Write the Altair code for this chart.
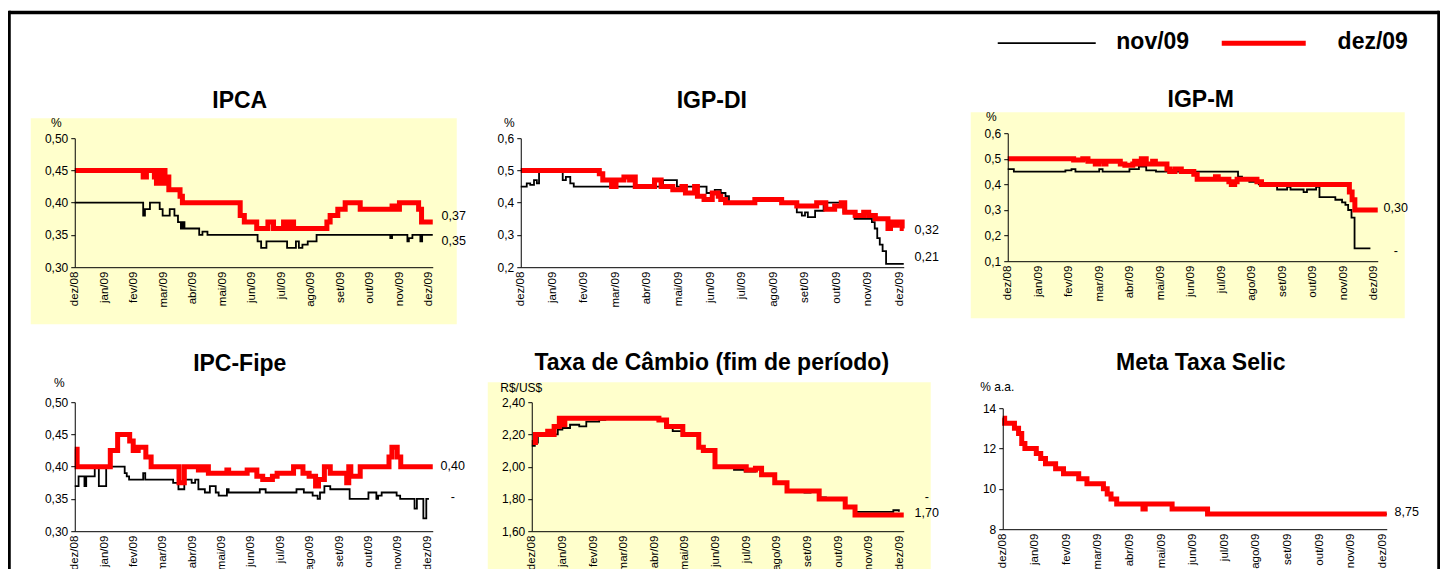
import altair as alt
import pandas as pd

FONT = "Liberation Sans"
MESES = ["dez/08", "jan/09", "fev/09", "mar/09", "abr/09", "mai/09", "jun/09",
         "jul/09", "ago/09", "set/09", "out/09", "nov/09", "dez/09"]
SERIES = ["nov/09", "dez/09"]

# ---------------- IPCA ----------------
ipca_nov_m = [0, 2.32, 2.38, 2.55, 2.88, 2.98, 3.22, 3.38, 3.50, 3.60, 3.66, 3.72, 4.22, 4.33, 4.50,
              6.20, 6.32, 6.50, 7.20, 7.50, 7.60, 7.72, 7.90, 8.20, 10.70, 10.76, 11.28, 11.33,
              11.45, 11.72, 11.78, 12.14]
ipca_nov_v = [0.40, 0.38, 0.39, 0.40, 0.39, 0.38, 0.39, 0.38, 0.37, 0.36, 0.37, 0.36, 0.35, 0.355, 0.35,
              0.34, 0.33, 0.34, 0.33, 0.34, 0.33, 0.335, 0.34, 0.35, 0.345, 0.35, 0.34, 0.345,
              0.35, 0.34, 0.35, 0.35]
ipca_dez_m = [0, 2.32, 2.43, 2.70, 2.77, 2.85, 2.94, 3.00, 3.06, 3.11, 3.19, 3.57, 3.65, 5.61, 5.75,
              6.17, 6.55, 6.74, 7.08, 7.22, 7.34, 7.42, 8.55, 8.66, 8.92, 9.17, 9.68, 10.76, 10.87,
              11.01, 11.66, 11.76, 12.14]
ipca_dez_v = [0.45, 0.44, 0.45, 0.44, 0.43, 0.45, 0.43, 0.45, 0.43, 0.44, 0.42, 0.41, 0.40, 0.38, 0.37,
              0.36, 0.37, 0.36, 0.37, 0.36, 0.37, 0.36, 0.37, 0.38, 0.39, 0.40, 0.39, 0.395, 0.39,
              0.40, 0.39, 0.37, 0.37]

# ---------------- IGP-DI ----------------
igpdi_nov_m = [0, 0.19, 0.30, 0.42, 0.51, 0.58, 1.33, 1.43, 1.57, 1.68, 4.51, 4.95, 5.89, 6.15, 6.34,
               6.49, 6.60, 7.42, 8.27, 8.75, 8.91, 9.01, 9.10, 9.33, 9.60, 10.23, 10.58, 11.13,
               11.22, 11.30, 11.38, 11.47, 11.58, 12.14]
igpdi_nov_v = [0.45, 0.46, 0.455, 0.47, 0.46, 0.50, 0.47, 0.48, 0.46, 0.45, 0.47, 0.45, 0.43, 0.44, 0.43,
               0.42, 0.40, 0.41, 0.40, 0.37, 0.36, 0.37, 0.355, 0.375, 0.40, 0.37, 0.35, 0.34,
               0.32, 0.29, 0.27, 0.25, 0.21, 0.21]
igpdi_dez_m = [0, 2.49, 2.60, 2.88, 3.02, 3.27, 3.45, 3.52, 3.63, 4.24, 4.45, 4.82, 5.11, 5.22, 5.51,
               5.60, 5.81, 6.07, 6.26, 6.34, 6.49, 7.42, 8.27, 8.75, 9.38, 9.67, 9.95, 10.16, 10.27,
               10.60, 10.87, 11.03, 11.24, 11.64, 11.72, 11.86, 11.93, 12.09, 12.14]
igpdi_dez_v = [0.50, 0.49, 0.47, 0.45, 0.47, 0.48, 0.47, 0.48, 0.45, 0.47, 0.45, 0.44, 0.45, 0.43, 0.45,
               0.42, 0.41, 0.43, 0.42, 0.41, 0.40, 0.41, 0.40, 0.39, 0.40, 0.38, 0.39, 0.40, 0.37,
               0.36, 0.37, 0.36, 0.35, 0.32, 0.34, 0.33, 0.34, 0.32, 0.32]

# ---------------- IGP-M ----------------
igpm_nov_m = [0, 0.20, 1.89, 2.09, 2.22, 3.00, 3.11, 3.99, 4.30, 4.54, 4.86, 7.55, 7.68, 7.92, 8.23,
              8.83, 9.16, 9.27, 9.70, 9.81, 10.11, 10.22, 10.74, 10.96, 11.07, 11.16, 11.27, 11.37, 11.89]
igpm_nov_v = [0.46, 0.45, 0.455, 0.46, 0.45, 0.46, 0.45, 0.46, 0.47, 0.455, 0.45, 0.43, 0.42, 0.41, 0.40,
              0.38, 0.39, 0.38, 0.37, 0.38, 0.39, 0.35, 0.34, 0.33, 0.32, 0.30, 0.27, 0.15, 0.15]
igpm_dez_m = [0, 2.16, 2.46, 2.63, 2.87, 2.98, 3.15, 3.22, 3.69, 3.84, 4.10, 4.16, 4.27, 4.38, 4.54,
              4.75, 4.84, 5.22, 5.31, 5.48, 5.69, 6.10, 6.21, 6.81, 6.90, 7.25, 7.33, 7.44, 7.52,
              8.17, 8.32, 11.20, 11.29, 11.38, 12.13]
igpm_dez_v = [0.50, 0.495, 0.50, 0.49, 0.48, 0.49, 0.48, 0.49, 0.48, 0.475, 0.48, 0.49, 0.48, 0.50, 0.48,
              0.49, 0.48, 0.46, 0.45, 0.46, 0.45, 0.44, 0.42, 0.43, 0.42, 0.41, 0.40, 0.41, 0.42,
              0.41, 0.40, 0.37, 0.34, 0.30, 0.30]

# ---------------- IPC-Fipe ----------------
fipe_nov_m = [0, 0.13, 0.33, 0.39, 0.68, 0.82, 1.07, 1.70, 1.77, 1.85, 2.33, 2.40, 3.35, 3.53, 3.73,
              3.98, 4.10, 4.21, 4.43, 4.60, 4.80, 4.90, 5.18, 5.24, 6.30, 6.50, 7.55, 7.80, 8.10,
              8.27, 8.35, 8.50, 8.70, 9.36, 10.00, 10.27, 10.33, 10.45, 10.96, 11.08, 11.57, 11.65,
              11.87, 11.97, 12.06]
fipe_nov_v = [0.37, 0.385, 0.37, 0.385, 0.40, 0.37, 0.40, 0.39, 0.385, 0.38, 0.39, 0.38, 0.375, 0.365, 0.38,
              0.375, 0.38, 0.365, 0.36, 0.37, 0.36, 0.355, 0.365, 0.36, 0.365, 0.36, 0.365, 0.36, 0.355,
              0.35, 0.36, 0.37, 0.365, 0.35, 0.36, 0.35, 0.355, 0.36, 0.355, 0.35, 0.335, 0.35,
              0.32, 0.35, 0.35]
fipe_dez_m = [0, 0.08, 1.21, 1.46, 1.87, 1.99, 2.16, 2.42, 2.60, 3.55, 3.73, 4.21, 4.38, 4.55, 5.18,
              5.24, 5.87, 6.20, 6.40, 6.73, 6.89, 7.45, 7.77, 7.98, 8.20, 8.30, 8.50, 8.70, 9.26,
              9.33, 9.40, 9.72, 10.70, 10.80, 10.98, 11.10, 12.19]
fipe_dez_v = [0.427, 0.40, 0.425, 0.45, 0.44, 0.425, 0.43, 0.415, 0.40, 0.375, 0.40, 0.395, 0.40, 0.39, 0.395,
              0.39, 0.395, 0.385, 0.38, 0.385, 0.39, 0.40, 0.39, 0.385, 0.37, 0.38, 0.40, 0.39, 0.375,
              0.40, 0.385, 0.40, 0.415, 0.43, 0.415, 0.40, 0.40]

# ---------------- Taxa de Câmbio ----------------
cambio_nov_m = [0, 0.10, 0.20, 0.52, 0.60, 0.85, 1.00, 1.25, 1.55, 1.78, 2.20, 2.40, 4.15, 4.35, 4.60,
                4.95, 5.45, 5.60, 5.98, 6.60, 6.95, 7.30, 7.50, 7.93, 8.33, 8.90, 9.10, 9.38, 9.60,
                10.23, 10.55, 11.80, 11.98]
cambio_nov_v = [2.13, 2.15, 2.20, 2.22, 2.20, 2.23, 2.24, 2.26, 2.25, 2.28, 2.29, 2.30, 2.29, 2.25, 2.22,
                2.20, 2.12, 2.10, 2.00, 1.98, 1.97, 1.99, 1.95, 1.90, 1.85, 1.84, 1.85, 1.81, 1.80,
                1.75, 1.72, 1.73, 1.72]
cambio_dez_m = [0, 0.12, 0.52, 0.57, 0.73, 0.90, 0.98, 1.08, 4.15, 4.40, 4.93, 5.45, 5.60, 5.98, 7.00,
                7.30, 7.50, 7.93, 8.33, 9.38, 10.23, 10.55, 12.14]
cambio_dez_v = [2.15, 2.20, 2.22, 2.20, 2.25, 2.30, 2.26, 2.30, 2.29, 2.25, 2.20, 2.12, 2.10, 2.00, 1.98,
                1.99, 1.95, 1.90, 1.85, 1.80, 1.75, 1.70, 1.70]

# ---------------- Meta Taxa Selic ----------------
selic_dez_m = [0, 0.06, 0.37, 0.50, 0.60, 0.70, 1.06, 1.20, 1.35, 1.67, 1.92, 2.40, 2.66, 3.18, 3.30,
               3.42, 3.60, 4.43, 4.50, 5.35, 6.47, 12.13]
selic_dez_v = [13.5, 13.25, 13.0, 12.75, 12.25, 12.0, 11.75, 11.5, 11.25, 11.0, 10.75, 10.5, 10.25, 10.0, 9.75,
               9.5, 9.25, 9.0, 9.25, 9.0, 8.75, 8.75]
selic_nov_m = list(selic_dez_m)
selic_nov_v = list(selic_dez_v)

X_LABEL_EXPR = "[" + ",".join("'%s'" % m for m in MESES) + "][round(datum.value)]"
ONE = alt.Data(values=[{}])


def panel(nov_m, nov_v, dez_m, dez_v, *, title, title_x, title_y, unit, unit_x, unit_y,
          ydom, yticks, yfmt, plotw, groupw, height, xmax, lab_text, lab_val, lab_dx,
          shift=0, yrange=None, bg=None, extra=()):
    df = pd.concat([
        pd.DataFrame({"m": nov_m, "v": nov_v, "serie": SERIES[0]}),
        pd.DataFrame({"m": dez_m, "v": dez_v, "serie": SERIES[1]}),
    ], ignore_index=True)
    xsc = alt.Scale(domain=[0, xmax], nice=False, zero=False, range=[shift, shift + plotw])
    if yrange is not None:
        ysc = alt.Scale(domain=ydom, nice=False, zero=False, range=yrange)
    else:
        ysc = alt.Scale(domain=ydom, nice=False, zero=False)
    xax = alt.Axis(values=list(range(13)), labelExpr=X_LABEL_EXPR, labelAngle=270,
                   labelAlign="right", labelBaseline="middle", ticks=False, grid=False,
                   domainColor="black", domainWidth=1, labelFontSize=11.5, labelPadding=4,
                   labelColor="black", labelFont=FONT, labelOverlap=False, zindex=1)
    yax = alt.Axis(values=yticks, labelExpr="replace(format(datum.value, '%s'), '.', ',')" % yfmt,
                   grid=False, ticks=True, tickSize=4, tickColor="black", domainColor="black",
                   domainWidth=1, labelFontSize=12, labelPadding=3, labelColor="black", labelFont=FONT,
                   title=unit, titleAngle=0, titleX=unit_x, titleY=unit_y, titleAlign="center",
                   titleBaseline="middle", titleFontSize=12, titleFontWeight="normal",
                   titleFont=FONT, titleColor="black", labelOverlap=False, zindex=1,
                   offset=-shift)
    xenc = alt.X("m:Q", scale=xsc, axis=xax, title=None)
    yenc = alt.Y("v:Q", scale=ysc, axis=yax)

    layers = []
    if bg is not None:
        layers.append(alt.Chart(ONE).mark_rect(color="#FFFFCC").encode(
            x=alt.value(bg[0] + shift), x2=alt.value(bg[1] + shift),
            y=alt.value(bg[2]), y2=alt.value(bg[3])))
    layers.extend(extra)
    base = alt.Chart(df).encode(x=xenc, y=yenc)
    layers.append(base.transform_filter(alt.datum.serie == SERIES[0]).mark_line(
        interpolate="step-after", color="black", strokeWidth=1.8))
    layers.append(base.transform_filter(alt.datum.serie == SERIES[1]).mark_line(
        interpolate="step-after", color="#FF0000", strokeWidth=5))
    lab_df = pd.DataFrame({"m": [xmax] * len(lab_text), "v": lab_val, "t": lab_text})
    layers.append(alt.Chart(lab_df).mark_text(
        align="center", baseline="middle", dx=lab_dx, fontSize=12.5, font=FONT, color="black"
    ).encode(x=xenc, y=yenc, text="t:N"))
    layers.append(alt.Chart(ONE).mark_text(
        text=title, fontSize=23, fontWeight="bold", font=FONT, align="center",
        baseline="alphabetic", color="black").encode(x=alt.value(title_x + shift), y=alt.value(title_y)))
    return alt.layer(*layers).properties(width=groupw, height=height)


# outer frame (left, top, right) drawn from the first panel
FR_W = 3.5
frame = [
    alt.Chart(ONE).mark_rule(color="black", strokeWidth=FR_W).encode(
        x=alt.value(-65.75), x2=alt.value(1364.25), y=alt.value(-120.6)),
    alt.Chart(ONE).mark_rule(color="black", strokeWidth=FR_W).encode(
        x=alt.value(-65.75), y=alt.value(-122.35), y2=alt.value(445)),
    alt.Chart(ONE).mark_rule(color="black", strokeWidth=FR_W).encode(
        x=alt.value(1364.25), y=alt.value(-122.35), y2=alt.value(445)),
]

# legend drawn from the IGP-M panel (panel content shifted by 5 px)
legend = [
    alt.Chart(ONE).mark_rule(color="black", strokeWidth=1.8).encode(
        x=alt.value(-5), x2=alt.value(93), y=alt.value(-90)),
    alt.Chart(ONE).mark_text(text=SERIES[0], fontSize=23, fontWeight="bold", font=FONT,
                             align="center", baseline="alphabetic", color="black").encode(
        x=alt.value(150), y=alt.value(-84)),
    alt.Chart(ONE).mark_rule(color="#FF0000", strokeWidth=5).encode(
        x=alt.value(219), x2=alt.value(303), y=alt.value(-90)),
    alt.Chart(ONE).mark_text(text=SERIES[1], fontSize=23, fontWeight="bold", font=FONT,
                             align="center", baseline="alphabetic", color="black").encode(
        x=alt.value(370), y=alt.value(-84)),
]

p_ipca = panel(ipca_nov_m, ipca_nov_v, ipca_dez_m, ipca_dez_v,
               title="IPCA", title_x=165, title_y=-25, unit="%", unit_x=-19, unit_y=-11,
               ydom=[0.30, 0.50], yticks=[0.30, 0.35, 0.40, 0.45, 0.50], yfmt=".2f",
               plotw=358, groupw=358, height=134, yrange=[134, 5], xmax=12.14,
               lab_text=["0,37", "0,35"], lab_val=[0.379, 0.340], lab_dx=21,
               bg=(-44, 382, -15, 191), extra=frame)

p_igpdi = panel(igpdi_nov_m, igpdi_nov_v, igpdi_dez_m, igpdi_dez_v,
                title="IGP-DI", title_x=191, title_y=-25, unit="%", unit_x=-12, unit_y=-11,
                ydom=[0.2, 0.6], yticks=[0.2, 0.3, 0.4, 0.5, 0.6], yfmt=".1f",
                plotw=383, groupw=394, height=134, yrange=[134, 5], xmax=12.14,
                lab_text=["0,32", "0,21"], lab_val=[0.315, 0.231], lab_dx=23)

p_igpm = panel(igpm_nov_m, igpm_nov_v, igpm_dez_m, igpm_dez_v,
               title="IGP-M", title_x=193, title_y=-26, unit="%", unit_x=-17, unit_y=-17,
               ydom=[0.1, 0.6], yticks=[0.1, 0.2, 0.3, 0.4, 0.5, 0.6], yfmt=".1f",
               plotw=370, groupw=375, height=128, xmax=12.13, shift=5,
               lab_text=["0,30", "-"], lab_val=[0.307, 0.139], lab_dx=18,
               bg=(-37, 397, -21, 185), extra=legend)

p_fipe = panel(fipe_nov_m, fipe_nov_v, fipe_dez_m, fipe_dez_v,
               title="IPC-Fipe", title_x=165, title_y=-31, unit="%", unit_x=-16, unit_y=-20,
               ydom=[0.30, 0.50], yticks=[0.30, 0.35, 0.40, 0.45, 0.50], yfmt=".2f",
               plotw=358, groupw=358, height=129, xmax=12.19,
               lab_text=["0,40", "-"], lab_val=[0.401, 0.353], lab_dx=20)

p_cambio = panel(cambio_nov_m, cambio_nov_v, cambio_dez_m, cambio_dez_v,
                 title="Taxa de Câmbio (fim de período)", title_x=180, title_y=-32,
                 unit="R$/US$", unit_x=-11, unit_y=-15,
                 ydom=[1.60, 2.40], yticks=[1.60, 1.80, 2.00, 2.20, 2.40], yfmt=".2f",
                 plotw=372, groupw=383, height=129, xmax=12.14, shift=11,
                 lab_text=["1,70", "-"], lab_val=[1.712, 1.811], lab_dx=23,
                 bg=(-44, 399, -20, 176))

p_selic = panel(selic_nov_m, selic_nov_v, selic_dez_m, selic_dez_v,
                title="Meta Taxa Selic", title_x=198, title_y=-32, unit="% a.a.", unit_x=-6, unit_y=-16,
                ydom=[8, 14], yticks=[8, 10, 12, 14], yfmt="d",
                plotw=384, groupw=384, height=127, yrange=[127, 6], xmax=12.13,
                lab_text=["8,75"], lab_val=[8.84], lab_dx=20)

chart = alt.concat(
    p_ipca, p_igpdi, p_igpm, p_fipe, p_cambio, p_selic,
    columns=3, bounds="flush",
    spacing={"row": 135, "column": 88},
    align="each",
    padding={"left": -1.25, "top": 0.2, "right": -2, "bottom": -12},
).configure(font=FONT).configure_view(stroke="transparent")

chart.save("out.html", embed_options={"renderer": "svg", "actions": False})
